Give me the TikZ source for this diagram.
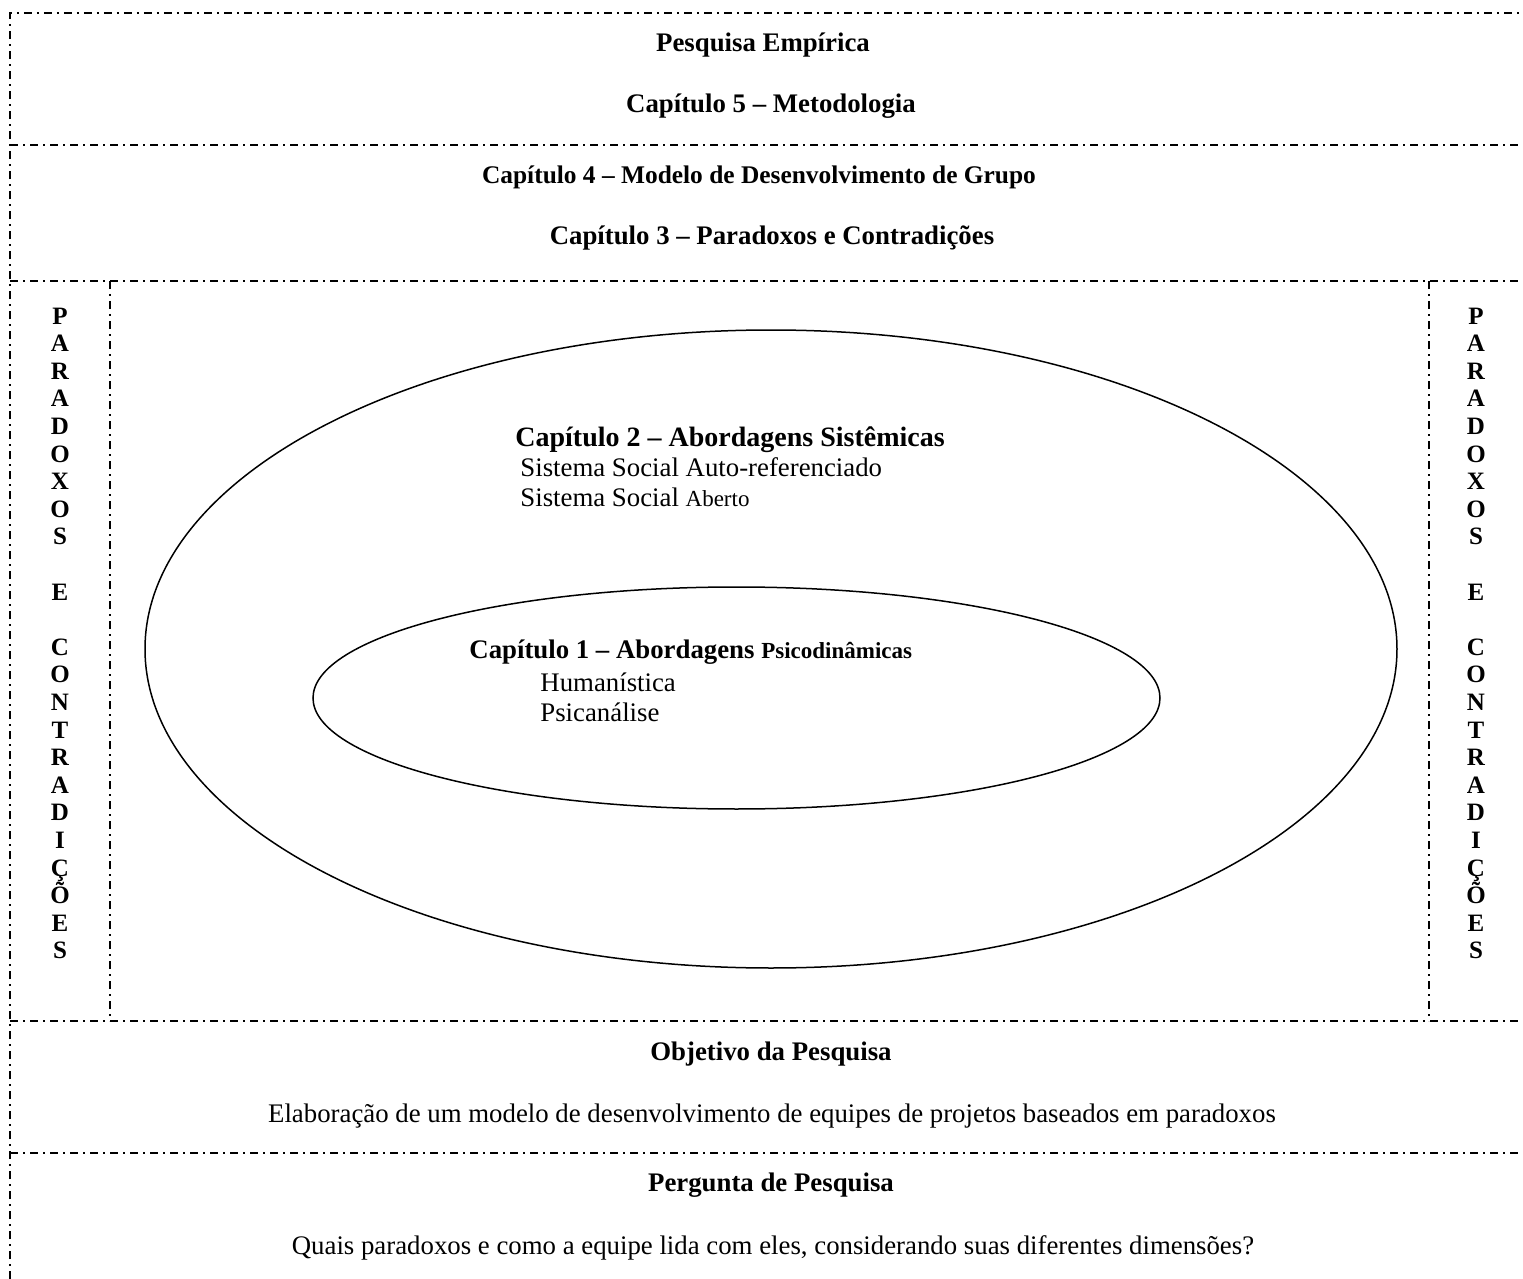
\documentclass[tikz,border=0pt]{standalone}
\usepackage{fontspec}
\setmainfont{Liberation Serif}
\usetikzlibrary{shapes.geometric}

\newcommand{\bodysize}{\fontsize{13.4}{15}\selectfont}
\newcommand{\bigsize}{\fontsize{14}{16}\selectfont}
\newcommand{\smallsize}{\fontsize{11.5}{13}\selectfont}
\newcommand{\lettersize}{\fontsize{12.5}{14}\selectfont}

\begin{document}
\begin{tikzpicture}[x=0.5pt,y=-0.5pt,
  frame/.style={line width=0.75pt,dash pattern=on 4pt off 2.5pt on 1pt off 2.5pt},
  ring/.style={draw,ellipse,line width=0.75pt,inner sep=0pt},
  head/.style={font=\bodysize\bfseries,anchor=base,inner sep=0pt},
  txt/.style={font=\bodysize,anchor=base,inner sep=0pt},
  letter/.style={font=\lettersize\bfseries,anchor=base,inner sep=0pt}]
\useasboundingbox (0,0) rectangle (1523,1279);
% frame
\coordinate (tl) at (10,13);
\coordinate (tr) at (1523,13);
\coordinate (bl) at (10,1279);
\draw[frame] (bl) -- (tl) -- (tr);
\foreach \yy in {145,281,1021,1153}
  \draw[frame] (10,\yy) -- (1523,\yy);
\draw[frame] (110,281) -- (110,1021);
\draw[frame] (1429,281) -- (1429,1021);
% top bands
\node[head] (emp) at (763,52) {Pesquisa Empírica};
\node[head] (cap5) at (771,113) {Capítulo 5 – Metodologia};
\node[head,font=\fontsize{12.7}{15}\selectfont\bfseries] (cap4) at (759,184) {Capítulo 4 – Modelo de Desenvolvimento de Grupo};
\node[head] (cap3) at (772,245) {Capítulo 3 – Paradoxos e Contradições};
% ellipses
\node[ring,minimum width=626pt,minimum height=319pt] (outer) at (771,649) {};
\node[ring,minimum width=423.5pt,minimum height=111pt] (inner) at (736.5,698) {};
\node[head,font=\bigsize\bfseries,anchor=base west] (cap2) at (515,446) {Capítulo 2 – Abordagens Sistêmicas};
\node[txt,anchor=base west] (ssa) at (520,476) {Sistema Social Auto-referenciado};
\node[txt,anchor=base west] (sso) at (520,506) {Sistema Social {\smallsize Aberto}};
\node[head,anchor=base west] (cap1) at (469,658) {Capítulo 1 – Abordagens {\smallsize Psicodinâmicas}};
\node[txt,anchor=base west] (hum) at (540,691) {Humanística};
\node[txt,anchor=base west] (psi) at (540,721) {Psicanálise};
% side columns
\foreach \ch [count=\i] in {P,A,R,A,D,O,X,O,S,{},E,{},C,O,N,T,R,A,D,I,Ç,Õ,E,S} {
  \node[letter] (l\i) at (60,324+\i*27.6-27.6) {\ch};
  \node[letter] (r\i) at (1476,324+\i*27.6-27.6) {\ch};
}
% bottom bands
\node[head] (obj) at (771,1060) {Objetivo da Pesquisa};
\node[txt] (elab) at (772,1122) {Elaboração de um modelo de desenvolvimento de equipes de projetos baseados em paradoxos};
\node[head] (perg) at (771,1191) {Pergunta de Pesquisa};
\node[txt] (quais) at (773,1254) {Quais paradoxos e como a equipe lida com eles, considerando suas diferentes dimensões?};
\end{tikzpicture}
\end{document}
